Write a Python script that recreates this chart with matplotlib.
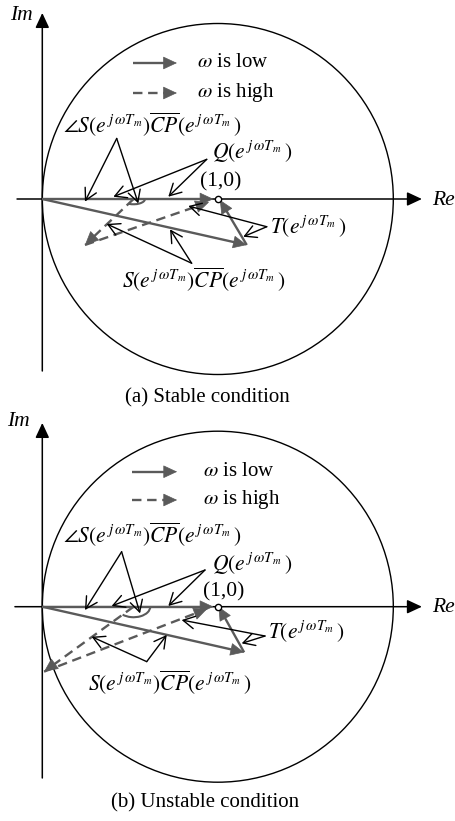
import matplotlib.pyplot as plt
from matplotlib.patches import Circle, Arc
import numpy as np

plt.rcParams['font.family'] = 'Liberation Serif'
plt.rcParams['mathtext.fontset'] = 'stix'

GRAY = '#5a5a5a'
W, H = 456, 821
PX = 175.5  # pixels per unit on both axes

# one entry per panel: (a) stable, (b) unstable
titles = ['(a) Stable condition', '(b) Unstable condition']
origin_px_y = [199.0, 606.7]
band_px = [(0, 410), (410, 821)]

q_tip = [(0.975, 0.0), (0.975, 0.0)]
scp_low = [(1.165, -0.262), (1.15, -0.26)]
t_low_tip = [(1.012, -0.005), (1.005, 0.0)]
q_point = [(0.52, 0.0), (0.52, 0.0)]
scp_high = [(0.243, -0.262), (0.01, -0.37)]
t_high_tip = [(0.95, -0.018), (0.94, -0.012)]
arc_size = [(0.13, 0.06), (0.19, 0.12)]

ang_apex = [(0.424, 0.345), (0.452, 0.313)]
ang_targets = [[(0.243, -0.015), (0.547, -0.025)], [(0.243, -0.019), (0.557, -0.038)]]
q_apex = [(0.937, 0.226), (0.927, 0.209)]
q_targets = [[(0.405, 0.013), (0.718, 0.013)], [(0.395, 0.004), (0.718, 0.004)]]
t_apex = [(1.279, -0.158), (1.269, -0.167)]
t_targets = [[(0.832, -0.04), (1.145, -0.215)], [(0.794, -0.076), (1.136, -0.209)]]
s_apex = [(0.851, -0.366), (0.595, -0.313)]
s_targets = [[(0.367, -0.142), (0.728, -0.173)], [(0.281, -0.171), (0.709, -0.161)]]

ang_label = [(0.118, 0.422), (0.118, 0.409)]
q_label = [(0.967, 0.268), (0.967, 0.247)]
t_label = [(1.297, -0.158), (1.286, -0.142)]
s_label = [(0.454, -0.462), (0.26, -0.436)]
one_label = [(1.016, 0.099), (1.035, 0.085)]
legend_x = [(0.517, 0.767, 0.88), (0.512, 0.768, 0.916)]
legend_y = [(0.775, 0.604), (0.769, 0.608)]
re_axis = [(-0.144, 2.163), (-0.156, 2.163)]
im_axis = [(-0.98, 1.06), (-0.976, 1.047)]
im_label = [(-0.121, 1.048), (-0.138, 1.054)]
re_label = [(2.35, -0.006), (2.35, -0.007)]
title_pos = [(0.938, -1.134), (0.926, -1.118)]

ARG = r'(e^{\,j\,\omega T_m}\,)'
txt_ang = r'$\angle S' + ARG.replace(r'\,)', ')') + r'\overline{CP}' + ARG + '$'
txt_q = r'$Q' + ARG + '$'
txt_t = r'$T' + ARG + '$'
txt_s = r'$S' + ARG.replace(r'\,)', ')') + r'\overline{CP}' + ARG + '$'


def gray_arrow(ax, start, end, dashed=False):
    start = np.array(start)
    end = np.array(end)
    d = (end - start) / np.linalg.norm(end - start)
    stop = end - d * 0.04
    if dashed:
        ax.plot([start[0], stop[0]], [start[1], stop[1]], color=GRAY, lw=1.7,
                dashes=(4, 2.4), solid_capstyle='butt', zorder=3)
    else:
        ax.plot([start[0], stop[0]], [start[1], stop[1]], color=GRAY, lw=1.7,
                solid_capstyle='butt', zorder=3)
    ax.annotate('', xy=tuple(end), xytext=tuple(end - d * 0.05),
                arrowprops=dict(arrowstyle='-|>,head_length=0.6,head_width=0.28',
                                mutation_scale=15, color=GRAY, lw=0.5,
                                shrinkA=0, shrinkB=0), zorder=4)


def callout(ax, apex, targets):
    for tgt in targets:
        ax.annotate('', xy=tgt, xytext=apex,
                    arrowprops=dict(arrowstyle='->,head_length=0.55,head_width=0.3',
                                    mutation_scale=15, color='black', lw=1.0,
                                    shrinkA=0, shrinkB=0), zorder=5)


fig = plt.figure(figsize=(W / 100, H / 100), dpi=100)

for i in range(2):
    top, bottom = band_px[i]
    oy = origin_px_y[i]
    ax = fig.add_axes([0, 1 - bottom / H, 1, (bottom - top) / H])
    ax.set_xlim(-42.3 / PX, (W - 42.3) / PX)
    ax.set_ylim((oy - bottom) / PX, (oy - top) / PX)
    ax.axis('off')

    # axes of the complex plane
    head = dict(arrowstyle='-|>,head_length=0.6,head_width=0.28', mutation_scale=15,
                color='black', lw=1.1, shrinkA=0, shrinkB=0)
    ax.annotate('', xy=(re_axis[i][1], 0), xytext=(re_axis[i][0], 0), arrowprops=head)
    ax.annotate('', xy=(0, im_axis[i][1]), xytext=(0, im_axis[i][0]), arrowprops=head)
    ax.text(*im_label[i], 'Im', style='italic', fontsize=15.5, ha='center', va='center')
    ax.text(*re_label[i], 'Re', style='italic', fontsize=15.5, ha='right', va='center')

    # unit circle around (1,0)
    ax.add_patch(Circle((1, 0), 1, fill=False, ec='black', lw=1.0))
    ax.plot([1], [0], marker='o', ms=4.5, mfc='white', mec='black', mew=1.0, zorder=6)
    ax.text(*one_label[i], '(1,0)', fontsize=15.5, ha='center', va='center')

    # vectors
    gray_arrow(ax, (0, 0), q_tip[i])
    gray_arrow(ax, (0, 0), scp_low[i])
    gray_arrow(ax, scp_low[i], t_low_tip[i])
    gray_arrow(ax, q_point[i], scp_high[i], dashed=True)
    gray_arrow(ax, scp_high[i], t_high_tip[i], dashed=True)
    aw, ah = arc_size[i]
    ang = np.degrees(np.arctan2(scp_high[i][1] - q_point[i][1], scp_high[i][0] - q_point[i][0])) % 360
    ax.add_patch(Arc(q_point[i], aw, ah, theta1=ang, theta2=360, color=GRAY, lw=1.5, zorder=3))

    # legend
    x0, x1, xt = legend_x[i]
    gray_arrow(ax, (x0, legend_y[i][0]), (x1, legend_y[i][0]))
    gray_arrow(ax, (x0, legend_y[i][1]), (x1, legend_y[i][1]), dashed=True)
    ax.text(xt, legend_y[i][0], r'$\omega$ is low', fontsize=15, ha='left', va='center')
    ax.text(xt, legend_y[i][1], r'$\omega$ is high', fontsize=15, ha='left', va='center')

    # callouts
    callout(ax, ang_apex[i], ang_targets[i])
    callout(ax, q_apex[i], q_targets[i])
    callout(ax, t_apex[i], t_targets[i])
    callout(ax, s_apex[i], s_targets[i])
    ax.text(*ang_label[i], txt_ang, fontsize=15.5, ha='left', va='center')
    ax.text(*q_label[i], txt_q, fontsize=15.5, ha='left', va='center')
    ax.text(*t_label[i], txt_t, fontsize=15.5, ha='left', va='center')
    ax.text(*s_label[i], txt_s, fontsize=15.5, ha='left', va='center')

    ax.text(*title_pos[i], titles[i], fontsize=15, ha='center', va='center')

fig.savefig('out.png', dpi=100)
